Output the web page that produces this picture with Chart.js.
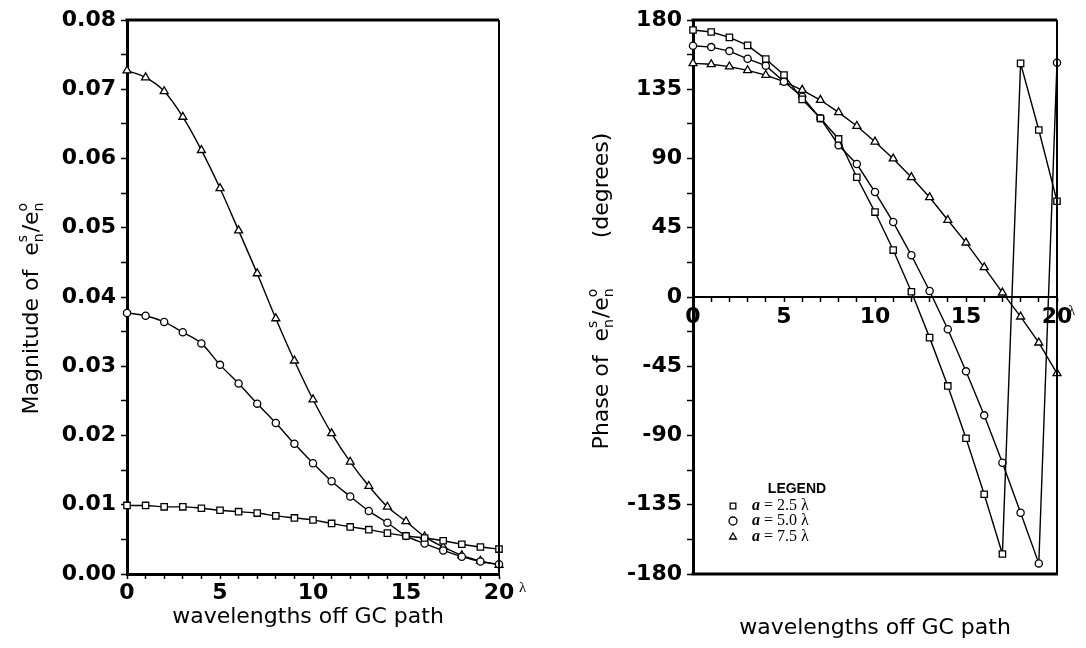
<!DOCTYPE html>
<html>
<head>
<meta charset="utf-8">
<script src="https://cdn.jsdelivr.net/npm/chart.js@4.4.0/dist/chart.umd.min.js"></script>
<style>
    html, body { margin: 0; padding: 0; background: #fff; }
    #wrap { position: relative; width: 1086px; height: 648px; }
    .panel { position: absolute; top: 0; width: 543px; height: 648px; }
    #magnitude_panel { left: 0; }
    #phase_panel { left: 543px; }
</style>
</head>
<body>
<div id="wrap">
    <div class="panel" id="magnitude_panel"><canvas id="magnitude_canvas" width="543" height="648"></canvas></div>
    <div class="panel" id="phase_panel"><canvas id="phase_canvas" width="543" height="648"></canvas></div>
</div>
<script>
// wavelengths off the GC path (in lambda)
const wavelengths = [0, 1, 2, 3, 4, 5, 6, 7, 8, 9, 10, 11, 12, 13, 14, 15, 16, 17, 18, 19, 20];

// magnitude of es/eo
const magnitude_a25 = [0.0099, 0.0099, 0.0097, 0.0097, 0.0095, 0.0092, 0.0090, 0.0088, 0.0084, 0.0081, 0.0078,
    0.0073, 0.0068, 0.0064, 0.0059, 0.0055, 0.0052, 0.0048, 0.0043, 0.0039, 0.0036];
const magnitude_a50 = [0.0377, 0.0373, 0.0364, 0.0349, 0.0333, 0.0302, 0.0275, 0.0246, 0.0218, 0.0188, 0.0160,
    0.0134, 0.0112, 0.0091, 0.0074, 0.0055, 0.0044, 0.0034, 0.0025, 0.0018, 0.0014];
const magnitude_a75 = [0.0727, 0.0717, 0.0697, 0.0660, 0.0612, 0.0557, 0.0496, 0.0434, 0.0369, 0.0308, 0.0252,
    0.0203, 0.0162, 0.0127, 0.0097, 0.0076, 0.0054, 0.0039, 0.0027, 0.0019, 0.0013];

// phase of es/eo in degrees
const phase_a25 = [173.5, 172.2, 168.7, 163.5, 154.6, 144.2, 128.4, 116.1, 102.7, 77.8, 55.2,
    30.5, 3.4, -26.4, -57.8, -91.8, -128.2, -167.0, 151.8, 108.5, 62.2];
const phase_a50 = [163.3, 162.4, 159.8, 154.8, 150.3, 139.9, 130.1, 116.1, 98.6, 86.4, 68.2,
    48.7, 27.1, 3.9, -21.0, -48.3, -76.9, -107.7, -140.2, -173.1, 152.2];
const phase_a75 = [151.8, 151.2, 149.7, 147.3, 144.2, 139.9, 134.5, 128.0, 120.0, 111.1, 100.9,
    89.9, 77.8, 64.8, 50.0, 35.3, 19.3, 2.8, -12.8, -29.7, -49.6];

const legend_labels = ["= 2.5 \u03bb", "= 5.0 \u03bb", "= 7.5 \u03bb"];
const point_styles = ["rect", "circle", "triangle"];
const point_radii = [4.5, 3.6, 4.6];

const x_title = "wavelengths off GC path";
const magnitude_title = [{text: "Magnitude of  "}, {text: "e"}, {sup: "s", sub: "n"}, {text: "/"}, {text: "e"}, {sup: "o", sub: "n"}];
const phase_title = [{text: "Phase of  "}, {text: "e"}, {sup: "s", sub: "n"}, {text: "/"}, {text: "e"}, {sup: "o", sub: "n"}, {text: "       (degrees)"}];

const tick_font = {family: "'DejaVu Sans'", size: 22, weight: "bold"};

function make_points(values) {
    return wavelengths.map((w, i) => ({x: w, y: values[i]}));
}

function make_dataset(label, values, index, smooth) {
    return {
        label: label,
        data: make_points(values),
        borderColor: "#000",
        borderWidth: 1.4,
        backgroundColor: "#fff",
        pointStyle: point_styles[index],
        pointRadius: point_radii[index],
        pointBorderWidth: 1.3,
        pointBorderColor: "#000",
        pointBackgroundColor: "#fff",
        tension: smooth ? 0.4 : 0,
        cubicInterpolationMode: smooth ? "monotone" : "default",
        clip: false
    };
}

function draw_rich_text(ctx, pieces, cx, cy, size) {
    const base_font = size + "px 'DejaVu Sans'";
    const small_font = Math.round(size * 0.64) + "px 'DejaVu Sans'";
    let widths = pieces.map(p => {
        if (p.text !== undefined) {
            ctx.font = base_font;
            return ctx.measureText(p.text).width;
        }
        ctx.font = small_font;
        return Math.max(ctx.measureText(p.sup).width, ctx.measureText(p.sub).width) + 1;
    });
    const total = widths.reduce((a, b) => a + b, 0);

    ctx.save();
    ctx.translate(cx, cy);
    ctx.rotate(-Math.PI / 2);
    ctx.fillStyle = "#000";
    ctx.textAlign = "left";
    ctx.textBaseline = "alphabetic";
    let x = -total / 2;
    const base_line = size * 0.36;
    pieces.forEach((p, i) => {
        if (p.text !== undefined) {
            ctx.font = base_font;
            ctx.fillText(p.text, x, base_line);
        } else {
            ctx.font = small_font;
            ctx.fillText(p.sup, x, base_line - size * 0.5);
            ctx.fillText(p.sub, x, base_line + size * 0.25);
        }
        x += widths[i];
    });
    ctx.restore();
}

function draw_lambda(ctx, x, y) {
    ctx.save();
    ctx.font = "15px 'Liberation Serif'";
    ctx.fillStyle = "#000";
    ctx.textAlign = "left";
    ctx.textBaseline = "middle";
    ctx.fillText("\u03bb", x, y);
    ctx.restore();
}

function draw_x_title(ctx, x, y) {
    ctx.save();
    ctx.font = "22px 'DejaVu Sans'";
    ctx.fillStyle = "#000";
    ctx.textAlign = "center";
    ctx.textBaseline = "middle";
    ctx.fillText(x_title, x, y);
    ctx.restore();
}

function line(ctx, x1, y1, x2, y2, width) {
    ctx.save();
    ctx.strokeStyle = "#000";
    ctx.lineWidth = width;
    ctx.beginPath();
    ctx.moveTo(x1, y1);
    ctx.lineTo(x2, y2);
    ctx.stroke();
    ctx.restore();
}

const magnitude_extras = {
    id: "magnitude_extras",
    afterDraw(chart) {
        const ctx = chart.ctx;
        const area = chart.chartArea;
        line(ctx, area.left - 1.5, area.top, area.right, area.top, 3);
        line(ctx, area.right, area.top, area.right, area.bottom, 2);
        draw_rich_text(ctx, magnitude_title, 30, 308, 22);
        draw_x_title(ctx, 308, 617);
        draw_lambda(ctx, chart.scales.x.getPixelForValue(20) + 20, 588);
    }
};

const phase_extras = {
    id: "phase_extras",
    afterDraw(chart) {
        const ctx = chart.ctx;
        const area = chart.chartArea;
        line(ctx, area.left - 1.5, area.top, area.right, area.top, 3);
        line(ctx, area.right, area.top, area.right, area.bottom, 2);
        line(ctx, area.left - 1.5, area.bottom, area.right + 1, area.bottom, 3);
        draw_rich_text(ctx, phase_title, 57, 291, 22);
        draw_x_title(ctx, 332, 628);
        draw_lambda(ctx, chart.scales.x.getPixelForValue(20) + 11, chart.scales.y.getPixelForValue(0) + 14);

        // legend
        ctx.save();
        ctx.fillStyle = "#000";
        ctx.font = "bold 14px 'Liberation Sans'";
        ctx.textAlign = "center";
        ctx.textBaseline = "middle";
        ctx.fillText("LEGEND", 254, 489);
        const rows = [506, 521, 537];
        rows.forEach((y, i) => {
            ctx.fillStyle = "#fff";
            ctx.strokeStyle = "#000";
            ctx.lineWidth = 1.3;
            Chart.helpers.drawPoint(ctx, {pointStyle: point_styles[i], radius: 4, rotation: 0, borderWidth: 1.3}, 190, y);
            ctx.fillStyle = "#000";
            ctx.textAlign = "left";
            ctx.font = "italic bold 16px 'Liberation Serif'";
            ctx.fillText("a", 209, y);
            ctx.font = "16px 'Liberation Serif'";
            ctx.fillText(legend_labels[i], 221, y);
        });
        ctx.restore();
    }
};

let magnitude_plot;
let phase_plot;

function setup_magnitude_plot() {
    let data = {
        datasets: [
            make_dataset("a = 2.5 \u03bb", magnitude_a25, 0, true),
            make_dataset("a = 5.0 \u03bb", magnitude_a50, 1, true),
            make_dataset("a = 7.5 \u03bb", magnitude_a75, 2, true)
        ]
    };

    let config = {
        type: "line",
        data: data,
        options: {
            responsive: false,
            animation: false,
            layout: {padding: {left: 0, right: 44, top: 20, bottom: 0}},
            plugins: {legend: {display: false}, tooltip: {enabled: false}},
            scales: {
                x: {
                    type: "linear",
                    min: 0,
                    max: 20,
                    afterFit: (scale) => { scale.height = 74; },
                    border: {display: true, color: "#000", width: 3},
                    grid: {drawOnChartArea: false, drawTicks: true, tickLength: 5, tickWidth: 1.5, tickColor: "#000"},
                    ticks: {
                        stepSize: 1,
                        autoSkip: false,
                        maxRotation: 0,
                        padding: 1,
                        color: "#000",
                        font: tick_font,
                        callback: (v) => (v % 5 === 0 ? String(v) : "")
                    }
                },
                y: {
                    min: 0,
                    max: 0.08,
                    afterFit: (scale) => { scale.width = 127; },
                    border: {display: true, color: "#000", width: 3},
                    grid: {drawOnChartArea: false, drawTicks: true, tickLength: 6, tickWidth: 1.5, tickColor: "#000"},
                    ticks: {
                        stepSize: 0.005,
                        autoSkip: false,
                        padding: 5,
                        color: "#000",
                        font: tick_font,
                        callback: (v) => (Math.round(v * 1000) % 10 === 0 ? v.toFixed(2) : "")
                    }
                }
            }
        },
        plugins: [magnitude_extras]
    };

    magnitude_plot = new Chart(document.getElementById("magnitude_canvas"), config);
}

function setup_phase_plot() {
    let data = {
        datasets: [
            make_dataset("a = 2.5 \u03bb", phase_a25, 0, false),
            make_dataset("a = 5.0 \u03bb", phase_a50, 1, false),
            make_dataset("a = 7.5 \u03bb", phase_a75, 2, false)
        ]
    };

    let config = {
        type: "line",
        data: data,
        options: {
            responsive: false,
            animation: false,
            layout: {padding: {left: 0, right: 29, top: 20, bottom: 74}},
            plugins: {legend: {display: false}, tooltip: {enabled: false}},
            scales: {
                x: {
                    type: "linear",
                    min: 0,
                    max: 20,
                    position: {y: 0},
                    border: {display: true, color: "#000", width: 2},
                    grid: {drawOnChartArea: false, drawTicks: true, tickLength: 4, tickWidth: 1.5, tickColor: "#000"},
                    ticks: {
                        stepSize: 1,
                        autoSkip: false,
                        maxRotation: 0,
                        padding: 3,
                        color: "#000",
                        font: tick_font,
                        callback: (v) => (v % 5 === 0 ? String(v) : "")
                    }
                },
                y: {
                    min: -180,
                    max: 180,
                    afterFit: (scale) => { scale.width = 150; },
                    border: {display: true, color: "#000", width: 3},
                    grid: {drawOnChartArea: false, drawTicks: true, tickLength: 6, tickWidth: 1.5, tickColor: "#000"},
                    ticks: {
                        stepSize: 22.5,
                        autoSkip: false,
                        padding: 5,
                        color: "#000",
                        font: tick_font,
                        callback: (v) => (v % 45 === 0 ? String(v) : "")
                    }
                }
            }
        },
        plugins: [phase_extras]
    };

    phase_plot = new Chart(document.getElementById("phase_canvas"), config);
}

setup_magnitude_plot();
setup_phase_plot();
</script>
</body>
</html>
